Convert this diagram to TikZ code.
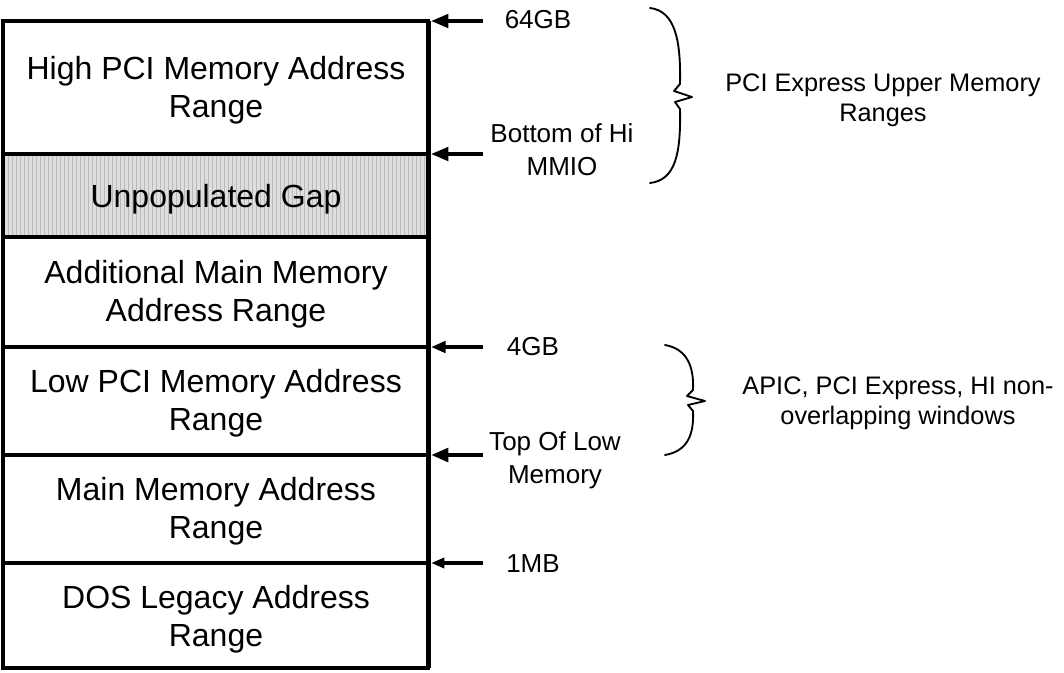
\documentclass[tikz,border=0pt]{standalone}
\usepackage{fontspec}
\setmainfont{Liberation Sans}
\usetikzlibrary{arrows.meta}
\usetikzlibrary{patterns}

\begin{document}
\begin{tikzpicture}[x=0.75pt,y=0.75pt,yscale=-1,xscale=1,
  region/.style={font=\fontsize{24}{28.5}\selectfont, align=center, inner sep=0.75pt},
  addr/.style={font=\fontsize{19.5}{24.75}\selectfont, align=center, inner sep=0.75pt},
  note/.style={font=\fontsize{19}{22.5}\selectfont, align=center, inner sep=0.75pt},
  pointer/.style={line width=2.8, -{Triangle[length=13pt,width=10pt]}},
  brace/.style={line width=1.4, line cap=round, line join=round}]
%set diagram left start at 0, and has height of 672
\path[use as bounding box] (0,0) rectangle (1064,672);

%Shape: Rectangle (gap fill)
\fill [fill={rgb, 255:red, 222; green, 222; blue, 222 }] (3,154) rectangle (428,237);
\fill [pattern=vertical lines, pattern color={rgb, 255:red, 185; green, 185; blue, 185 }] (3,154) rectangle (428,237);
%Shape: Rectangle
\draw [line width=3] (3,21) rectangle (428,668);
%Straight Lines
\draw [line width=3.75] (428,21) -- (428,668);
%Straight Lines
\draw [line width=2.6] (3,154) -- (428,154);
\draw [line width=2.6] (3,237) -- (428,237);
\draw [line width=2.6] (3,347) -- (428,347);
\draw [line width=2.6] (3,455) -- (428,455);
\draw [line width=2.6] (3,563) -- (428,563);

%Pointer ends
\coordinate (at64) at (431,21);    \coordinate (from64) at (483,21);
\coordinate (atHi) at (431,154);   \coordinate (fromHi) at (483,154);
\coordinate (at4) at (431,347);    \coordinate (from4) at (483,347);
\coordinate (atLow) at (431,455);  \coordinate (fromLow) at (483,455);
\coordinate (at1) at (431,563);    \coordinate (from1) at (483,563);

%Straight Lines
\draw [pointer] (from64) -- (at64);
\draw [pointer] (fromHi) -- (atHi);
\draw [pointer, -{Triangle[length=11pt,width=8.5pt]}] (from4) -- (at4);
\draw [pointer, line width=3.6] (fromLow) -- (atLow);
\draw [pointer, -{Triangle[length=10pt,width=7.5pt]}] (from1) -- (at1);

%Curve Lines (upper brace)
\draw [brace] (650,8) .. controls (675,11) and (681,40) .. (680,84) -- (674,91) -- (692,97) -- (675,102) -- (680,109) .. controls (681,155) and (675,180) .. (650,183);
%Curve Lines (lower brace)
\draw [brace] (665,345) .. controls (688,349) and (694,368) .. (693,390) -- (687,396) -- (705,401) -- (688,405) -- (693,411) .. controls (694,434) and (688,451) .. (665,455);

% Text Node
\draw (216,90) node [region] (high) {High PCI Memory Address\\Range};
% Text Node
\draw (216,199) node [region] (gap) {Unpopulated Gap};
% Text Node
\draw (216,294) node [region] (addl) {Additional Main Memory\\Address Range};
% Text Node
\draw (216,403) node [region] (lowpci) {Low PCI Memory Address\\Range};
% Text Node
\draw (216,511) node [region] (mainmem) {Main Memory Address\\Range};
% Text Node
\draw (216,619.5) node [region] (dos) {DOS Legacy Address\\Range};

% Text Node
\draw (538,19.5) node [addr] (lbl64) {64GB};
% Text Node
\draw (562,150) node [addr] (lblHi) {Bottom of Hi\\MMIO};
% Text Node
\draw (533,347) node [addr] (lbl4) {4GB};
% Text Node
\draw (555,460) node [addr] (lblLow) {Top Of Low\\Memory};
% Text Node
\draw (533,564) node [addr] (lbl1) {1MB};

% Text Node
\draw (883,100.5) node [note] (upper) {PCI Express Upper Memory\\Ranges};
% Text Node
\draw (898,403.5) node [note] (windows) {APIC, PCI Express, HI non-\\overlapping windows};

\end{tikzpicture}
\end{document}
